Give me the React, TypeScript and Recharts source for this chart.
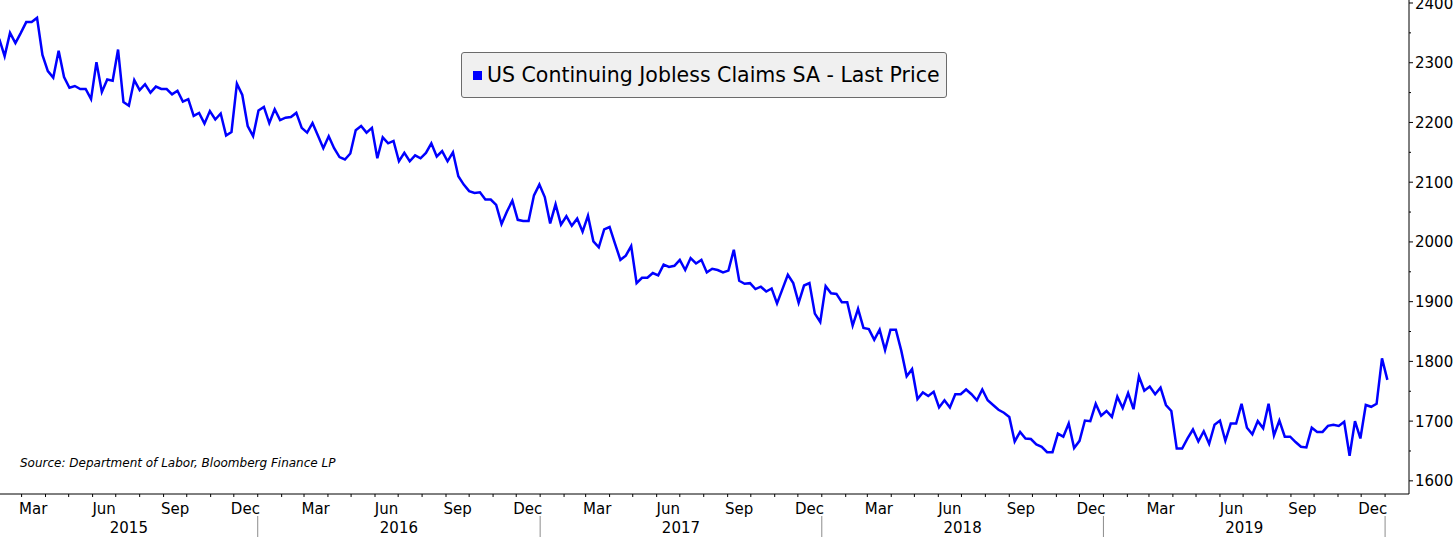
import React from 'react'
import { LineChart, Line, XAxis, YAxis, Legend } from 'recharts'

const DAY = 86400000
const WEEK = 7 * DAY
// first observation: week ending Sat 31 Jan 2015
const FIRST_WEEK = Date.UTC(2015, 0, 31)

// US continuing jobless claims, SA, thousands (weekly, by year of week-ending date)
const claims2015 = [
  2340, 2311, 2350, 2333, 2350, 2368, 2368, 2375, 2313, 2286,
  2275, 2320, 2276, 2258, 2261, 2256, 2256, 2239, 2301, 2251,
  2272, 2270, 2322, 2234, 2228, 2271, 2254, 2264, 2250, 2260,
  2256, 2256, 2247, 2253, 2235, 2239, 2211, 2216, 2198, 2219,
  2205, 2215, 2178, 2184, 2265, 2246, 2194, 2177,
]
const claims2016 = [
  2220, 2226, 2199, 2222, 2204, 2208, 2209, 2216, 2191, 2183,
  2199, 2178, 2157, 2177, 2157, 2142, 2138, 2148, 2187, 2194,
  2183, 2191, 2140, 2175, 2165, 2169, 2135, 2149, 2135, 2145,
  2140, 2149, 2165, 2143, 2152, 2135, 2150, 2110, 2096, 2085,
  2082, 2083, 2071, 2071, 2062, 2030, 2051, 2069, 2037, 2035,
  2035, 2078, 2096,
]
const claims2017 = [
  2075, 2031, 2063, 2029, 2043, 2027, 2039, 2017, 2044, 2001,
  1991, 2021, 2025, 1997, 1970, 1977, 1993, 1931, 1940, 1940,
  1948, 1944, 1962, 1958, 1960, 1970, 1953, 1973, 1964, 1970,
  1949, 1955, 1953, 1949, 1952, 1987, 1935, 1930, 1931, 1921,
  1925, 1917, 1922, 1897, 1921, 1945, 1931, 1898, 1927, 1931,
  1880, 1866,
]
const claims2018 = [
  1926, 1914, 1913, 1899, 1899, 1860, 1888, 1856, 1854, 1836,
  1853, 1819, 1853, 1853, 1818, 1775, 1787, 1737, 1748, 1742,
  1749, 1723, 1735, 1723, 1745, 1745, 1753, 1745, 1735, 1753,
  1735, 1727, 1719, 1714, 1707, 1666, 1682, 1671, 1670, 1661,
  1657, 1648, 1648, 1679, 1674, 1696, 1655, 1667, 1701, 1700,
  1729, 1709,
]
const claims2019 = [
  1717, 1707, 1741, 1722, 1747, 1720, 1775, 1751, 1758, 1745,
  1756, 1727, 1717, 1654, 1654, 1671, 1686, 1666, 1683, 1662,
  1694, 1701, 1667, 1696, 1696, 1729, 1689, 1678, 1700, 1688,
  1729, 1676, 1701, 1674, 1674, 1665, 1657, 1656, 1689, 1682,
  1682, 1692, 1694, 1692, 1699, 1642, 1700, 1671, 1727, 1724,
  1729, 1805,
]
const claims2020 = [1769]

const years = [2015, 2016, 2017, 2018, 2019]
const labelMonths = [2, 5, 8, 11]
const monthNames = ['Mar', 'Jun', 'Sep', 'Dec']
const yTicks = [
  1600, 1650, 1700, 1750, 1800, 1850, 1900, 1950, 2000,
  2050, 2100, 2150, 2200, 2250, 2300, 2350, 2400,
]

const X_MIN = Date.UTC(2015, 1, 1)
const X_MAX = Date.UTC(2020, 1, 1)
const FONT = "'DejaVu Sans', Verdana, sans-serif"
const BLUE = '#0000ff'

const values = [...claims2015, ...claims2016, ...claims2017, ...claims2018, ...claims2019, ...claims2020]
const data = values.map((v, i) => ({ t: FIRST_WEEK + i * WEEK, v }))

// x ticks: month marks, year separators, month labels (mid-month), year labels
type TickInfo = { kind: 'month' | 'sep' | 'label' | 'year'; text?: string }
const xTickInfo = new Map<number, TickInfo>()
for (let y = 2015; y <= 2019; y++) {
  for (let m = 0; m < 12; m++) {
    const t = Date.UTC(y, m, 1)
    if (t <= X_MIN) continue
    xTickInfo.set(t, { kind: m === 0 ? 'sep' : 'month' })
  }
}
xTickInfo.set(Date.UTC(2020, 0, 1), { kind: 'sep' })
years.forEach((y) => {
  labelMonths.forEach((m, j) => {
    xTickInfo.set(Date.UTC(y, m, 16), { kind: 'label', text: monthNames[j] })
  })
  const start = Math.max(Date.UTC(y, 0, 1), X_MIN)
  const end = Date.UTC(y + 1, 0, 1)
  xTickInfo.set(Math.round((start + end) / 2), { kind: 'year', text: String(y) })
})
const xTicks = Array.from(xTickInfo.keys()).sort((a, b) => a - b)

function XTick(props: any) {
  const { x, y, payload } = props
  const info = xTickInfo.get(payload.value)
  if (!info) return null
  if (info.kind === 'month') {
    return <line x1={x} x2={x} y1={y} y2={y + 3} stroke="#000" />
  }
  if (info.kind === 'sep') {
    return (
      <g>
        <line x1={x} x2={x} y1={y} y2={y + 3} stroke="#000" />
        <line x1={x} x2={x} y1={y + 22} y2={y + 44} stroke="#8c8c8c" />
      </g>
    )
  }
  const dy = info.kind === 'label' ? 20 : 39
  return (
    <text x={x} y={y + dy} textAnchor="middle" fontFamily={FONT} fontSize={15} fill="#000">
      {info.text}
    </text>
  )
}

function YTick(props: any) {
  const { x, y, payload } = props
  const v = payload.value as number
  const major = v % 100 === 0
  return (
    <g>
      <line x1={x} x2={x + (major ? 4 : 2)} y1={y} y2={y} stroke="#000" />
      {major && (
        <text x={x + 6} y={y + 5.5} fontFamily={FONT} fontSize={15} fill="#000">
          {v}
        </text>
      )}
    </g>
  )
}

function LegendBox() {
  return (
    <div
      style={{
        boxSizing: 'border-box',
        width: 486,
        height: 46,
        background: '#f0f0f0',
        border: '1px solid #6b6b6b',
        borderRadius: 3,
        display: 'flex',
        alignItems: 'center',
        paddingLeft: 11,
        fontFamily: FONT,
        fontSize: 20.5,
        color: '#000',
        whiteSpace: 'nowrap',
      }}
    >
      <span style={{ display: 'inline-block', width: 9, height: 9, background: BLUE, marginRight: 5 }} />
      US Continuing Jobless Claims SA - Last Price
    </div>
  )
}

export default function App() {
  return (
    <div style={{ position: 'absolute', left: 0, top: 0, width: 1456, height: 537, background: '#fff' }}>
      <LineChart width={1456} height={537} data={data} margin={{ top: 0, right: 0, bottom: 0, left: 0 }}>
        <XAxis
          dataKey="t"
          type="number"
          domain={[X_MIN, X_MAX]}
          allowDataOverflow
          ticks={xTicks}
          interval={0}
          tickLine={false}
          tickSize={0}
          tickMargin={0}
          tick={(p: any) => <XTick {...p} />}
          axisLine={{ stroke: '#000' }}
          height={43}
        />
        <YAxis
          orientation="right"
          type="number"
          domain={[1578, 2405]}
          allowDataOverflow
          ticks={yTicks}
          interval={0}
          tickLine={false}
          tickSize={0}
          tickMargin={0}
          tick={(p: any) => <YTick {...p} />}
          axisLine={{ stroke: '#000' }}
          width={47}
        />
        <Legend
          layout="horizontal"
          verticalAlign="middle"
          align="center"
          wrapperStyle={{ top: 52, left: 461, width: 486, height: 46 }}
          content={() => <LegendBox />}
        />
        <Line
          type="linear"
          dataKey="v"
          stroke={BLUE}
          strokeWidth={2.5}
          dot={false}
          isAnimationActive={false}
        />
      </LineChart>
      <div
        style={{
          position: 'absolute',
          left: 20,
          top: 456,
          fontFamily: FONT,
          fontStyle: 'italic',
          fontSize: 12,
          color: '#000',
          whiteSpace: 'nowrap',
        }}
      >
        Source: Department of Labor, Bloomberg Finance LP
      </div>
    </div>
  )
}
